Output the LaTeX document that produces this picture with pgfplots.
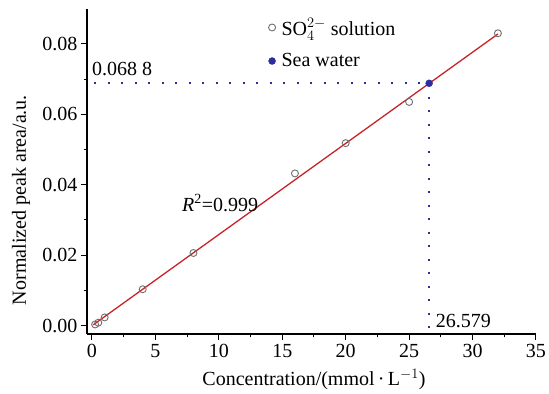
\documentclass[border=0pt]{standalone}
\usepackage{pgfplots}
\pgfplotsset{compat=1.18}
\usepackage{fontspec}
\setmainfont{Liberation Serif}
\definecolor{fitred}{RGB}{200,35,40}
\definecolor{dotblue}{RGB}{45,45,160}
\definecolor{mkgray}{RGB}{110,110,110}
\begin{document}
\begin{tikzpicture}
\begin{axis}[
  scale only axis,
  width=449pt, height=325pt,
  xmin=-0.39, xmax=35, ymin=-0.0024, ymax=0.0899,
  axis lines=left,
  axis line style={-, line width=1.2pt},
  tick align=outside,
  major tick length=6pt, minor tick length=3.5pt,
  every tick/.style={line width=1pt, black},
  xtick={0,5,...,35}, ytick={0,0.02,...,0.08},
  minor x tick num=1, minor y tick num=1,
  /pgf/number format/assume math mode=true,
  yticklabel style={/pgf/number format/fixed, /pgf/number format/fixed zerofill, /pgf/number format/precision=2},
  scaled y ticks=false,
  tick label style={font=\fontsize{20}{23}\selectfont},
  xticklabel style={yshift=-1pt},
  xlabel={Concentration/(mmol\,·\,L$^{-1}$)},
  ylabel={Normalized peak area/a.u.},
  every axis x label/.style={at={(axis description cs:0.5056,-0.16)}, anchor=base, font=\fontsize{20}{23}\selectfont},
  every axis y label/.style={at={(axis description cs:-0.147,0.412)}, anchor=center, rotate=90, font=\fontsize{20}{23}\selectfont},
  legend style={draw=none, fill=none, at={(rel axis cs:0.404,0.978)}, anchor=north west,
    font=\fontsize{20}{23}\selectfont, row sep=13pt, inner xsep=0pt, inner ysep=0pt,
    /tikz/every even column/.append style={column sep=0pt}},
  legend cell align=left,
  legend image code/.code={\draw[#1] plot coordinates {(0.1cm,0cm)};},
  clip=false,
]
\addplot[dash pattern=on 2pt off 11.5pt, line width=2pt, color=dotblue, forget plot]
  coordinates {(0.2,0.0688) (26.579,0.0688)};
\addplot[dash pattern=on 2pt off 11.5pt, line width=2pt, color=dotblue, forget plot]
  coordinates {(26.579,0.0688) (26.579,-0.0024)};
\addplot[fitred, line width=1.3pt, forget plot] coordinates {(0.1,0.0002) (32,0.0828)};
\addplot[only marks, mark=o, mark size=3.5pt, mkgray, mark options={line width=0.9pt}]
  coordinates {(0.25,0.0003) (0.5,0.0008) (1,0.0023) (4,0.0103) (8,0.0206) (16,0.0432) (20,0.0518) (25,0.0635) (32,0.0830)};
\addlegendentry{\hspace{4pt}SO$_4^{2-}$ solution}
\addplot[only marks, mark=*, mark size=3.5pt, dotblue]
  coordinates {(26.579,0.0688)};
\addlegendentry{\hspace{4pt}Sea water}
\node[anchor=base west, font=\fontsize{20}{23}\selectfont, inner sep=0pt] at (axis cs:0,0.0709) {0.068 8};
\node[anchor=base west, font=\fontsize{20}{23}\selectfont, inner sep=0pt] at (axis cs:27.1,-0.0007) {26.579};
\node[anchor=base, font=\fontsize{20}{23}\selectfont, inner sep=0pt] at (axis cs:10.1,0.0325) {\textit{R}\textsuperscript{2}=0.999};
\coordinate (bbl) at (rel axis cs:-0.1938,-0.1846);
\coordinate (btr) at (rel axis cs:1.029,1.0277);
\end{axis}
\pgfresetboundingbox
\path[use as bounding box] (bbl) rectangle (btr);
\end{tikzpicture}
\end{document}
